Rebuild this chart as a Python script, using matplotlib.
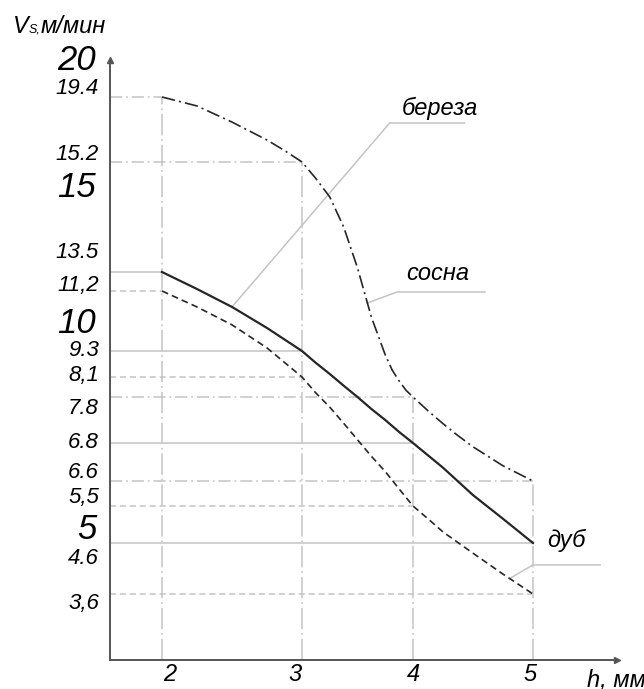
import numpy as np
import matplotlib
matplotlib.use("Agg")
import matplotlib.pyplot as plt
from matplotlib.transforms import ScaledTranslation

plt.rcParams["font.family"] = ["Liberation Sans", "DejaVu Sans"]
plt.rcParams["font.style"] = "italic"

# ---------------- data ----------------
h_sosna = [2, 2.25, 2.5, 2.75, 2.875, 3, 3.125, 3.25, 3.375, 3.5, 3.625,
           3.75, 3.8125, 3.875, 3.9375, 4, 4.125, 4.25, 4.375, 4.5, 4.625,
           4.75, 4.875, 5]
sosna = [19.4, 18.82, 17.78, 16.62, 15.94, 15.2, 15.05, 14.78, 14.27, 13.57,
         10.12, 9.12, 8.42, 8.04, 7.9, 7.8, 7.5, 7.22, 6.96, 6.78, 6.73,
         6.68, 6.64, 6.6]
h = [2, 2.25, 2.5, 2.75, 3, 3.125, 3.25, 3.375, 3.5, 3.625, 3.75, 3.875,
     4, 4.25, 4.5, 4.75, 5]
bereza = [13.5, 11.44, 10.54, 9.82, 9.3, 8.75, 8.24, 7.97, 7.8, 7.54, 7.3,
          7.04, 6.8, 6.67, 5.98, 5.18, 4.6]
h_dub = [2, 2.25, 2.5, 2.75, 3, 3.125, 3.25, 3.375, 3.5, 3.625, 3.75, 3.875,
         4, 4.125, 4.25, 4.5, 4.75, 5]
dub = [11.2, 10.54, 9.89, 9.37, 8.1, 7.86, 7.58, 7.23, 6.87, 6.73, 6.65,
       6.25, 5.5, 5.18, 4.86, 4.40, 3.99, 3.6]

key_h = [2, 3, 4, 5]
sosna_key = [19.4, 15.2, 7.8, 6.6]
bereza_key = [13.5, 9.3, 6.8, 4.6]
dub_key = [11.2, 8.1, 5.5, 3.6]
sosna_lbl = ["19.4", "15.2", "7.8", "6.6"]
bereza_lbl = ["13.5", "9.3", "6.8", "4.6"]
dub_lbl = ["11,2", "8,1", "5,5", "3,6"]

big_ticks = [5, 10, 15, 20]
big_tick_labels = ["5", "10", "15", "20"]
x_ticks = [2, 3, 4, 5]
x_tick_labels = ["2", "3", "4", "5"]

# ---------------- schematic (non-uniform) axis scales ----------------
W, H = 644, 689
X_VAL = [1.0, 2, 3, 4, 5, 6.0]
X_PIX = [22, 162, 302, 413, 533, 653]
Y_VAL = [0.0, 2.3, 3.6, 4.6, 5, 5.5, 6.6, 6.8, 7.8, 8.1, 9.3, 10, 11.2,
         13.5, 15, 15.2, 19.4, 20, 30]
Y_PIX = [777, 660, 594, 543, 526, 506, 481, 443, 397, 377, 351, 320, 291,
         272, 184, 162, 97, 60, -140]
Y_T = [-p for p in Y_PIX]


def xf(v):
    return np.interp(v, X_VAL, X_PIX)


def xi(t):
    return np.interp(t, X_PIX, X_VAL)


def yf(v):
    return np.interp(v, Y_VAL, Y_T)


def yi(t):
    return np.interp(t, Y_T, Y_VAL)


X_LEFT, X_RIGHT = float(xi(110)), float(xi(617))
Y_BOTTOM, Y_TOP = 2.3, 20

fig = plt.figure(figsize=(W / 100, H / 100), dpi=100)
ax = fig.add_axes([110 / W, (H - 660) / H, (617 - 110) / W, (660 - 60) / H])
ax.set_xscale("function", functions=(xf, xi))
ax.set_yscale("function", functions=(yf, yi))
ax.set_xlim(X_LEFT, X_RIGHT)
ax.set_ylim(Y_BOTTOM, Y_TOP)

GRAY = "#c4c4c4"
DARK = "#262626"
DASHDOT = (0, (8, 2.5, 1.2, 2.5))
DASHED = (0, (4, 2.5))
VDASH = (0, (14, 2.5, 1.2, 2.5))

# vertical reference lines at each h up to the upper curve
for xv, top in zip(key_h, sosna_key):
    ax.plot([xv, xv], [Y_BOTTOM, top], color=GRAY, lw=1.1, ls=VDASH,
            zorder=1)

# horizontal reference lines from the axis to each key point
for keys, ls in ((sosna_key, DASHDOT), (bereza_key, "-"), (dub_key, DASHED)):
    for xv, yv in zip(key_h, keys):
        ax.plot([X_LEFT, xv], [yv, yv], color=GRAY, lw=1.1, ls=ls, zorder=1)

# curves
ax.plot(h_sosna, sosna, color=DARK, lw=1.2, ls=DASHDOT, zorder=3)
ax.plot(h, bereza, color=DARK, lw=1.6, ls="-", zorder=3)
ax.plot(h_dub, dub, color=DARK, lw=1.2, ls=DASHED, zorder=3)

# leader lines and curve names
ax.plot([2.5, 3.79, 4.43], [10.54, 17.72, 17.72], color=GRAY, lw=1.1,
        zorder=2)
ax.plot([3.586, 3.856, 4.6], [10.70, 11.16, 11.16], color=GRAY, lw=1.1,
        zorder=2)
ax.plot([4.81, 5.0, 5.56], [3.91, 4.17, 4.17], color=GRAY, lw=1.1, zorder=2)
ax.text(4.225, 18.24, "береза", fontsize=17, ha="center", va="baseline")
ax.text(4.21, 12.53, "сосна", fontsize=17, ha="center", va="baseline")
ax.text(5.275, 4.52, "дуб", fontsize=17, ha="center", va="baseline")

# small value labels next to the y axis
lbl_off = {"19.4": -8, "15.2": -8, "7.8": 12, "6.6": -9,
           "13.5": -20, "9.3": 0, "6.8": 0, "4.6": 15,
           "11,2": -5, "8,1": -1, "5,5": -9, "3,6": 9}
for keys, lbls in ((sosna_key, sosna_lbl), (bereza_key, bereza_lbl),
                   (dub_key, dub_lbl)):
    for yv, s in zip(keys, lbls):
        ax.annotate(s, xy=(0, yv), xycoords=("axes fraction", "data"),
                    xytext=(-8, -lbl_off[s] * 0.72), textcoords="offset points",
                    ha="right", va="center", fontsize=16, annotation_clip=False)

# axes styling
for s in ("top", "right"):
    ax.spines[s].set_visible(False)
for s in ("left", "bottom"):
    ax.spines[s].set_color("#555555")
    ax.spines[s].set_linewidth(1.4)
ax.set_yticks(big_ticks)
ax.set_yticklabels(big_tick_labels, fontsize=25)
ax.set_xticks(x_ticks)
ax.set_xticklabels(x_tick_labels, fontsize=17)
ax.yaxis.set_minor_locator(matplotlib.ticker.NullLocator())
ax.xaxis.set_minor_locator(matplotlib.ticker.NullLocator())
ax.tick_params(axis="y", length=0, pad=10)
ax.tick_params(axis="x", length=0, pad=2.5)
x_lbl_dx = [8, -7, 0, -3]
for lbl, dx in zip(ax.get_xticklabels(), x_lbl_dx):
    lbl.set_transform(lbl.get_transform()
                      + ScaledTranslation(dx / 100, 0, fig.dpi_scale_trans))
y_lbl_dy = [0, 0, 0, 3]
for lbl, dy in zip(ax.get_yticklabels(), y_lbl_dy):
    lbl.set_transform(lbl.get_transform()
                      + ScaledTranslation(0, dy / 100, fig.dpi_scale_trans))

# arrow heads
ax.plot([0], [1], marker="^", ms=4, color="#555555", transform=ax.transAxes,
        clip_on=False)
ax.plot([1], [0], marker=">", ms=4, color="#555555", transform=ax.transAxes,
        clip_on=False)

# axis titles
fig.text(13 / W, 1 - 33 / H, "V", fontsize=17, ha="left", va="baseline")
fig.text(29 / W, 1 - 33 / H, "S,", fontsize=9, ha="left", va="baseline")
fig.text(41 / W, 1 - 33 / H, "м/мин", fontsize=17, ha="left", va="baseline")
fig.text(587 / W, 1 - 687 / H, "h, мм", fontsize=17, ha="left",
         va="baseline")

fig.savefig("out.png", dpi=100, facecolor="white")
